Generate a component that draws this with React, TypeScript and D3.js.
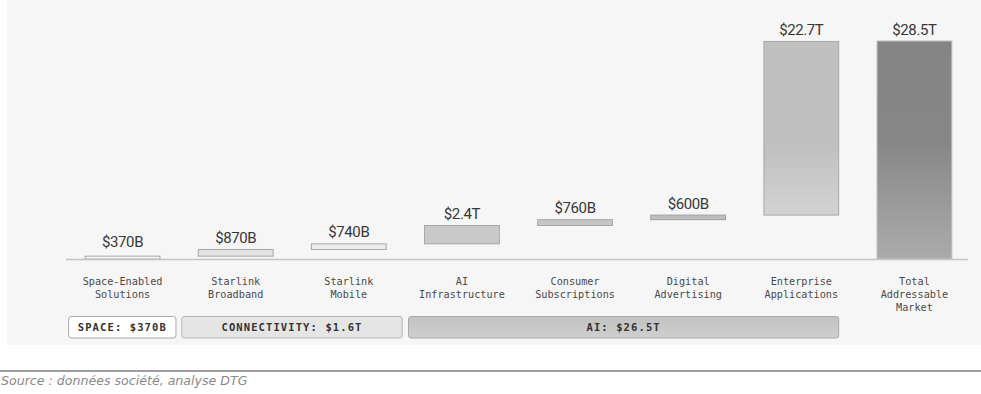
import React from "react";
import * as d3 from "d3";

const categories = [
  ["Space-Enabled", "Solutions"],
  ["Starlink", "Broadband"],
  ["Starlink", "Mobile"],
  ["AI", "Infrastructure"],
  ["Consumer", "Subscriptions"],
  ["Digital", "Advertising"],
  ["Enterprise", "Applications"],
  ["Total", "Addressable", "Market"],
];
const values = [0.37, 0.87, 0.74, 2.4, 0.76, 0.6, 22.7, 28.5]; // trillions
const valueLabels = ["$370B", "$870B", "$740B", "$2.4T", "$760B", "$600B", "$22.7T", "$28.5T"];
const isTotal = [false, false, false, false, false, false, false, true];
const groupLabels = ["SPACE: $370B", "CONNECTIVITY: $1.6T", "AI: $26.5T"];
const groupFirst = [0, 1, 3];
const groupLast = [0, 2, 6];
const sourceText = "Source : données société, analyse DTG";

// styles
const barFills = ["#fbfbfb", "#e3e3e3", "#ececec", "#c9c9c9", "#c6c6c6", "#bdbdbd", "url(#gEnt)", "url(#gTot)"];
const barStrokes = ["#a8a8a8", "#a8a8a8", "#aaaaaa", "#a8a8a8", "#a8a8a8", "#a0a0a0", "#a9a9a9", "#bdbdbd"];
const groupFills = ["#ffffff", "#e5e5e5", "url(#gAI)"];
const groupStrokes = ["#a9a9a9", "#b5b5b5", "#a9a9a9"];
const groupPadL = [16.5, 16.5, 16];
const groupPadR = [16, 16, 0];

const W = 981;
const H = 394;

export default function App() {
  const x = d3
    .scaleBand<number>()
    .domain(d3.range(categories.length))
    .range([66, 971])
    .paddingInner(0.33)
    .paddingOuter(0.165);
  const y = d3.scaleLinear().domain([0, 28.5]).range([259, 41]);
  const bw = x.bandwidth();

  let cum = 0;
  const bars = values.map((v, i) => {
    let y0: number, y1: number;
    if (isTotal[i]) {
      y0 = 0;
      y1 = v;
    } else {
      y0 = cum;
      y1 = cum + v;
      cum += v;
    }
    return { i, y0, y1 };
  });

  const mono = "'DejaVu Sans Mono', 'Liberation Mono', monospace";

  return (
    <svg
      width={W}
      height={H}
      style={{ position: "absolute", left: 0, top: 0, background: "#ffffff" }}
    >
      <defs>
        <linearGradient id="gEnt" x1="0" y1="0" x2="0" y2="1">
          <stop offset="0" stopColor="#c0c0c0" />
          <stop offset="0.6" stopColor="#c0c0c0" />
          <stop offset="1" stopColor="#d3d3d3" />
        </linearGradient>
        <linearGradient id="gTot" x1="0" y1="0" x2="0" y2="1">
          <stop offset="0" stopColor="#858585" />
          <stop offset="0.45" stopColor="#868686" />
          <stop offset="1" stopColor="#ababab" />
        </linearGradient>
        <linearGradient id="gAI" x1="0" y1="0" x2="0" y2="1">
          <stop offset="0" stopColor="#c2c2c2" />
          <stop offset="1" stopColor="#cfcfcf" />
        </linearGradient>
      </defs>
      <rect x={7} y={-2} width={W} height={347} fill="#f6f6f6" />

      {/* bars */}
      {bars.map((b) => (
        <rect
          key={"b" + b.i}
          x={(x(b.i) as number) + 0.5}
          y={y(b.y1)}
          width={bw - 1}
          height={Math.max(1, y(b.y0) - y(b.y1))}
          fill={barFills[b.i]}
          stroke={barStrokes[b.i]}
          strokeWidth={1}
        />
      ))}

      {/* axis baseline */}
      <line x1={x.range()[0]} x2={968} y1={y(0) + 0.5} y2={y(0) + 0.5} stroke="#c4c4c4" strokeWidth={1.5} />

      {/* value labels */}
      {bars.map((b) => (
        <text
          key={"v" + b.i}
          x={(x(b.i) as number) + bw / 2}
          y={y(b.y1) - (b.i === 0 ? 9 : 6.5)}
          textAnchor="middle"
          fontFamily="Roboto, sans-serif"
          fontSize={15}
          letterSpacing={-0.4}
          fill="#383838"
        >
          {valueLabels[b.i]}
        </text>
      ))}

      {/* category labels */}
      {categories.map((lines, i) => (
        <text
          key={"c" + i}
          x={(x(i) as number) + bw / 2}
          textAnchor="middle"
          fontFamily={mono}
          fontSize={10.2}
          fill="#4a4a4a"
        >
          {lines.map((l, j) => (
            <tspan key={j} x={(x(i) as number) + bw / 2} y={285 + j * 13.2}>
              {l}
            </tspan>
          ))}
        </text>
      ))}

      {/* group boxes */}
      {groupLabels.map((g, k) => {
        const x0 = (x(groupFirst[k]) as number) - groupPadL[k];
        const x1 = (x(groupLast[k]) as number) + bw + groupPadR[k];
        return (
          <g key={"g" + k}>
            <rect
              x={x0 + 0.5}
              y={316.5}
              width={x1 - x0 - 1}
              height={21.5}
              rx={2.5}
              fill={groupFills[k]}
              stroke={groupStrokes[k]}
              strokeWidth={1}
            />
            <text
              x={(x0 + x1) / 2}
              y={331}
              textAnchor="middle"
              fontFamily={mono}
              fontSize={10.5}
              fontWeight="bold"
              letterSpacing={1.1}
              fill="#333333"
            >
              {g}
            </text>
          </g>
        );
      })}

      {/* footer */}
      <line x1={0} x2={W} y1={371} y2={371} stroke="#7d7d7d" strokeWidth={1.5} />
      <text
        x={1}
        y={385}
        fontFamily="'DejaVu Sans', sans-serif"
        fontStyle="italic"
        fontSize={12.6}
        fill="#8a8a8a"
      >
        {sourceText}
      </text>
    </svg>
  );
}
